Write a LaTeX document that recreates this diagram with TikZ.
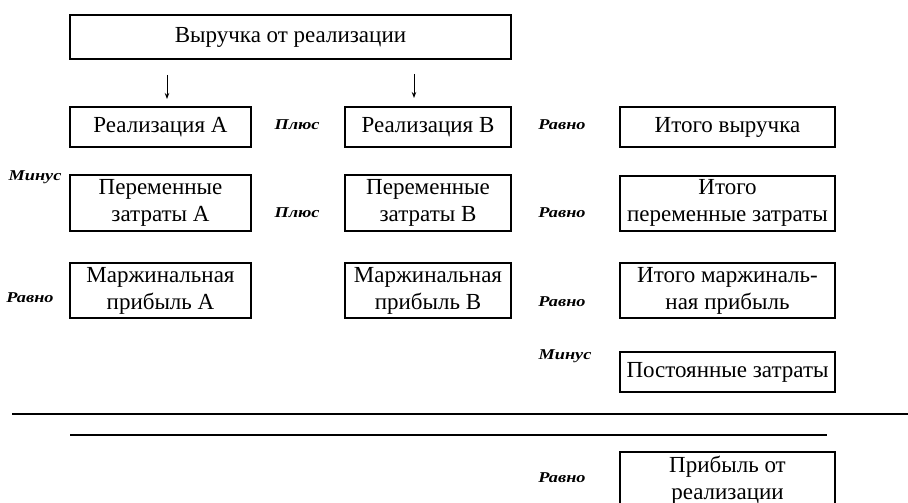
\documentclass[tikz,border=0pt]{standalone}
\usepackage{fontspec}
\usepackage{graphicx}
\setmainfont{Liberation Serif}
\usetikzlibrary{arrows.meta}
\newcommand{\lbltxt}[1]{\scalebox{1.22}[1]{\fontsize{15}{17}\selectfont\bfseries\itshape #1}}
\tikzset{
  box/.style={draw=black, line width=2pt, inner sep=0pt, align=center,
    font=\fontsize{23}{27}\selectfont},
  lbl/.style={inner sep=0pt},
  arr/.style={line width=1pt, -{Stealth[length=6pt,width=4.5pt]}},
  rule/.style={line width=2.2pt}
}
\begin{document}
\begin{tikzpicture}[x=1pt,y=-1pt]
\clip (0,0) rectangle (908,503);
\fill[white] (0,0) rectangle (908,503);

% top box
\node[box, minimum width=441pt, minimum height=44pt] (top) at (290.5,37) {Выручка от реализации};

% row 1
\node[box, minimum width=181pt, minimum height=40pt] (a1) at (160.5,127) {Реализация А};
\node[box, minimum width=166pt, minimum height=40pt] (b1) at (428,127) {Реализация В};
\node[box, minimum width=215pt, minimum height=40pt] (c1) at (727.5,127) {Итого выручка};

% row 2
\node[box, minimum width=181pt, minimum height=56pt] (a2) at (160.5,203) {Переменные\\затраты А};
\node[box, minimum width=166pt, minimum height=56pt] (b2) at (428,203) {Переменные\\затраты В};
\node[box, minimum width=215pt, minimum height=55pt] (c2) at (727.5,203) {Итого\\переменные затраты};

% row 3
\node[box, minimum width=181pt, minimum height=55pt] (a3) at (160.5,290.5) {Маржинальная\\прибыль А};
\node[box, minimum width=166pt, minimum height=55pt] (b3) at (428,290.5) {Маржинальная\\прибыль В};
\node[box, minimum width=215pt, minimum height=55pt] (c3) at (727.5,290.5) {Итого маржиналь-\\ная прибыль};

% row 4
\node[box, minimum width=215pt, minimum height=40pt] (c4) at (727.5,372) {Постоянные затраты};

% bottom box (cut by the page edge)
\node[box, minimum width=215pt, minimum height=56pt] (c5) at (727.5,480) {Прибыль от\\реализации};

% arrows
\coordinate (ar1) at ([xshift=6.5pt]a1.north);
\coordinate (ar2) at ([xshift=-14pt]b1.north);
\draw[arr, shorten <=15pt, shorten >=7pt] (ar1 |- top.south) -- (ar1);
\draw[arr, shorten <=14pt, shorten >=8pt] (ar2 |- top.south) -- (ar2);

% labels
\node[lbl] (p1) at (297,125) {\lbltxt{Плюс}};
\node[lbl] (p2) at (297,213) {\lbltxt{Плюс}};
\node[lbl] (r1) at (562,125) {\lbltxt{Равно}};
\node[lbl] (r2) at (562,213) {\lbltxt{Равно}};
\node[lbl] (r3) at (562,302) {\lbltxt{Равно}};
\node[lbl] (r4) at (30,298) {\lbltxt{Равно}};
\node[lbl] (m1) at (35,177) {\lbltxt{Минус}};
\node[lbl] (m2) at (565,356) {\lbltxt{Минус}};
\node[lbl] (r5) at (562,478) {\lbltxt{Равно}};

% horizontal rules
\draw[rule] (12,414) -- (908,414);
\draw[rule] (70,435) -- (827,435);
\end{tikzpicture}
\end{document}
